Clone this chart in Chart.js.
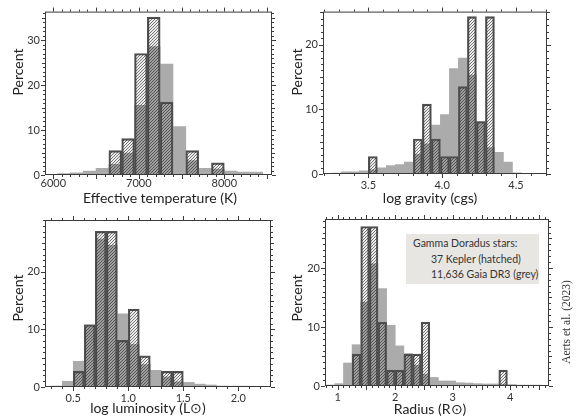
<!DOCTYPE html>
<html>
<head>
<meta charset="utf-8">
<script src="https://cdn.jsdelivr.net/npm/chart.js@4.4.0/dist/chart.umd.min.js"></script>
<style>
  html, body { margin: 0; padding: 0; background: #fff; }
  #wrap { position: relative; width: 579px; height: 418px; overflow: hidden; }
  #wrap canvas { position: absolute; left: 0; top: 0; }
  .legend { position: absolute; left: 406px; top: 234px; width: 133px; height: 50px; background: #e8e6e3; }
  .legend div { position: absolute; font: 10.5px Lato, sans-serif; line-height: 14px; color: #333; white-space: nowrap; }
</style>
</head>
<body>
<div id="wrap">
  <div class="legend">
    <div style="left:7px; top:2px;">Gamma Doradus stars:</div>
    <div style="left:25px; top:18px;">37 Kepler (hatched)</div>
    <div style="left:25px; top:33px;">11,636 Gaia DR3 (grey)</div>
  </div>
  <canvas id="teffChart" width="579" height="418"></canvas>
  <canvas id="loggChart" width="579" height="418"></canvas>
  <canvas id="lumChart" width="579" height="418"></canvas>
  <canvas id="radChart" width="579" height="418"></canvas>
</div>
<script>
// Effective temperature (K) - bin centres, 150 K wide
const teffBins = [6125, 6275, 6425, 6575, 6725, 6875, 7025, 7175, 7325, 7475, 7625, 7775, 7925, 8075, 8225, 8375];
const teffGaia = [0.3, 0.5, 0.9, 1.5, 2.4, 4.9, 15.5, 28.6, 24.7, 10.8, 3.2, 1.5, 1.3, 0.9, 0.65, 0.65];
const teffKepler = [null, null, null, null, 5.41, 8.11, 27.03, 35.14, 16.22, null, 5.41, null, 2.70, null, null, null];
const teffTicks = [6000, 7000, 8000];

// log gravity (cgs)
const loggBins = [3.2865, 3.3475, 3.4085, 3.4695, 3.5305, 3.5915, 3.6525, 3.7135, 3.7745, 3.8355, 3.8965,
                  3.9575, 4.0185, 4.0795, 4.1405, 4.2015, 4.2625, 4.3235, 4.3845, 4.4455, 4.5065];
const loggGaia = [0.15, 0.35, 0.35, 0.5, 0.65, 0.95, 1.3, 1.45, 1.85, 3.05, 4.65, 7.55, 9.2, 16.3, 17.9, 15.3, 8.1, 4.1, 3.35, 1.85, 0.2];
const loggKepler = [null, null, null, null, 2.70, null, null, null, null, 5.41, 10.81, 5.41, 2.70, 2.70, 13.51, 24.32, 8.11, 24.32, null, null, null];
const loggTicks = [3.5, 4.0, 4.5];

// log luminosity (Lsun)
const lumBins = [0.35, 0.45, 0.55, 0.65, 0.75, 0.85, 0.95, 1.05, 1.15, 1.25, 1.35, 1.45, 1.55, 1.65, 1.75, 1.85, 1.95, 2.05, 2.15, 2.25];
const lumGaia = [0.17, 1.0, 4.45, 10.8, 25.7, 24.6, 12.7, 7.4, 3.9, 2.9, 1.75, 0.9, 0.8, 0.5, 0.35, 0.17, 0.15, 0.15, 0.1, 0.1];
const lumKepler = [null, null, 2.70, 10.81, 27.03, 27.03, 8.11, 13.51, 5.41, null, 2.70, 2.70, null, null, null, null, null, null, null, null];
const lumTicks = [0.5, 1.0, 1.5, 2.0];

// Radius (Rsun)
const radBins = [0.875, 1.025, 1.175, 1.325, 1.475, 1.625, 1.775, 1.925, 2.075, 2.225, 2.375, 2.525, 2.675,
                 2.825, 2.975, 3.125, 3.275, 3.425, 3.575, 3.725, 3.875, 4.025, 4.175, 4.325, 4.475];
const radGaia = [0.17, 0.4, 3.9, 7.0, 14.2, 20.7, 16.5, 10.3, 6.8, 5.5, 3.5, 2.0, 1.45, 0.85, 0.85, 0.55, 0.5, 0.4, 0.35, 0.35, 0.3, 0.25, 0.15, 0.15, 0.15];
const radKepler = [null, null, null, 5.41, 27.03, 27.03, 10.81, 2.70, 2.70, 5.41, 5.41, 10.81, null,
                   null, null, null, null, null, null, null, 2.70, null, null, null, null];
const radTicks = [1, 2, 3, 4];

const percentTicks = [0, 10, 20, 30];

const FONT = 'Lato, "Open Sans", sans-serif';

// hatch fill for the Kepler bars
function makeHatch() {
    const c = document.createElement('canvas');
    c.width = 3; c.height = 3;
    const g = c.getContext('2d');
    const img = g.createImageData(3, 3);
    for (let y = 0; y < 3; y++) {
        for (let x = 0; x < 3; x++) {
            const i = (y * 3 + x) * 4;
            const line = (x + y) % 3 === 2;
            img.data[i] = img.data[i + 1] = img.data[i + 2] = line ? 35 : 0;
            img.data[i + 3] = line ? 158 : 18;
        }
    }
    g.putImageData(img, 0, 0);
    return g.createPattern(c, 'repeat');
}
const hatch = makeHatch();

// box round the plot with ticks on all four sides, plus axis titles
const framePlugin = {
    id: 'frame',
    afterDraw(chart, args, o) {
        const { ctx, chartArea: a, scales: { x, y } } = chart;
        ctx.save();
        ctx.strokeStyle = '#3a3a3a';
        ctx.lineWidth = 1;
        ctx.strokeRect(a.left + 0.5, a.top + 0.5, a.right - a.left - 1, a.bottom - a.top - 1);

        const isMult = (v, m) => Math.abs(v / m - Math.round(v / m)) < 1e-6;
        ctx.beginPath();
        for (let k = Math.ceil(x.min / o.xMinor); k * o.xMinor <= x.max; k++) {
            const v = k * o.xMinor;
            const len = isMult(v, o.xMajor) ? 4 : 2;
            const px = Math.round(x.getPixelForValue(v)) + 0.5;
            ctx.moveTo(px, a.bottom); ctx.lineTo(px, a.bottom + len);
            ctx.moveTo(px, a.top); ctx.lineTo(px, a.top - len);
        }
        for (let k = Math.ceil(y.min / o.yMinor); k * o.yMinor <= y.max; k++) {
            const v = k * o.yMinor;
            const len = isMult(v, 10) ? 4 : (isMult(v, 5) ? 3 : 2);
            const py = Math.round(y.getPixelForValue(v)) + 0.5;
            ctx.moveTo(a.left, py); ctx.lineTo(a.left - len, py);
            ctx.moveTo(a.right, py); ctx.lineTo(a.right + len, py);
        }
        ctx.stroke();

        ctx.textAlign = 'center';
        ctx.textBaseline = 'middle';
        o.titles.forEach(t => {
            ctx.save();
            ctx.fillStyle = t.color || '#222';
            ctx.font = t.font || '14px ' + FONT;
            ctx.translate(t.x, t.y);
            if (t.rot) ctx.rotate(-Math.PI / 2);
            ctx.fillText(t.text, 0, 0);
            ctx.restore();
        });
        ctx.restore();
    }
};

function histChart(id, p) {
    const W = 579, H = 418, YW = 40, XH = 16;
    const a = p.area;
    const tickFont = { family: FONT, size: 11 };
    return new Chart(document.getElementById(id), {
        type: 'bar',
        data: {
            datasets: [
                {
                    label: 'Kepler',
                    data: p.bins.map((b, i) => ({ x: b, y: p.kepler[i] })),
                    backgroundColor: hatch,
                    borderColor: '#505050',
                    borderWidth: 1.5,
                    order: 0
                },
                {
                    label: 'Gaia DR3',
                    data: p.bins.map((b, i) => ({ x: b, y: p.gaia[i] })),
                    backgroundColor: '#ababab',
                    borderWidth: 0,
                    order: 1
                }
            ]
        },
        options: {
            responsive: false,
            animation: false,
            devicePixelRatio: 1,
            layout: { padding: { left: a.l - YW, top: a.t, right: W - a.r, bottom: H - a.b - XH } },
            datasets: { bar: { grouped: false, barPercentage: 1, categoryPercentage: 1 } },
            plugins: {
                legend: { display: false },
                tooltip: { enabled: false },
                frame: { xMinor: p.xMinor, xMajor: p.xMajor, yMinor: 1, titles: p.titles }
            },
            scales: {
                x: {
                    type: 'linear', offset: false, min: p.xMin, max: p.xMax,
                    grid: { display: false, drawTicks: false },
                    border: { display: false },
                    ticks: {
                        autoSkip: false, maxRotation: 0,
                        padding: p.xPad, font: tickFont, color: '#333',
                        callback: v => v.toFixed(p.dec)
                    },
                    afterBuildTicks: s => { s.ticks = p.xTicks.map(v => ({ value: v })); },
                    afterFit: s => { s.height = XH; }
                },
                y: {
                    min: 0, max: p.yMax,
                    grid: { display: false, drawTicks: false },
                    border: { display: false },
                    ticks: { autoSkip: false, padding: 5, font: tickFont, color: '#333' },
                    afterBuildTicks: s => { s.ticks = percentTicks.filter(v => v <= p.yMax).map(v => ({ value: v })); },
                    afterFit: s => { s.width = YW; }
                }
            }
        },
        plugins: [framePlugin]
    });
}

histChart('teffChart', {
    bins: teffBins, gaia: teffGaia, kepler: teffKepler, xTicks: teffTicks,
    area: { l: 45, t: 7, r: 272, b: 175 },
    xMin: 5903, xMax: 8558, dec: 0, xMinor: 100, xMajor: 500, xPad: 2, yMax: 36.36,
    titles: [{ text: 'Percent', x: 18.5, y: 72, rot: true }, { text: 'Effective temperature (K)', x: 160, y: 198 }]
});
histChart('loggChart', {
    bins: loggBins, gaia: loggGaia, kepler: loggKepler, xTicks: loggTicks,
    area: { l: 323, t: 7, r: 547, b: 174 },
    xMin: 3.193, xMax: 4.71, dec: 1, xMinor: 0.1, xMajor: 0.5, xPad: 4.5, yMax: 25.1,
    titles: [{ text: 'Percent', x: 297, y: 72, rot: true }, { text: 'log gravity (cgs)', x: 430, y: 198 }]
});
histChart('lumChart', {
    bins: lumBins, gaia: lumGaia, kepler: lumKepler, xTicks: lumTicks,
    area: { l: 45, t: 220, r: 271, b: 387 },
    xMin: 0.243, xMax: 2.297, dec: 1, xMinor: 0.1, xMajor: 0.5, xPad: 5, yMax: 29.0,
    titles: [{ text: 'Percent', x: 18.5, y: 298, rot: true }, { text: 'log luminosity (L\u2299)', x: 148, y: 408 }]
});
histChart('radChart', {
    bins: radBins, gaia: radGaia, kepler: radKepler, xTicks: radTicks,
    area: { l: 325, t: 219, r: 549, b: 386 },
    xMin: 0.779, xMax: 4.673, dec: 0, xMinor: 0.1, xMajor: 0.5, xPad: 5, yMax: 28.3,
    titles: [
        { text: 'Percent', x: 297, y: 298, rot: true },
        { text: 'Radius (R\u2299)', x: 430, y: 409 },
        { text: 'Aerts et al. (2023)', x: 567, y: 322, rot: true, font: '11.5px "Liberation Serif", serif', color: '#333' }
    ]
});
</script>
</body>
</html>
